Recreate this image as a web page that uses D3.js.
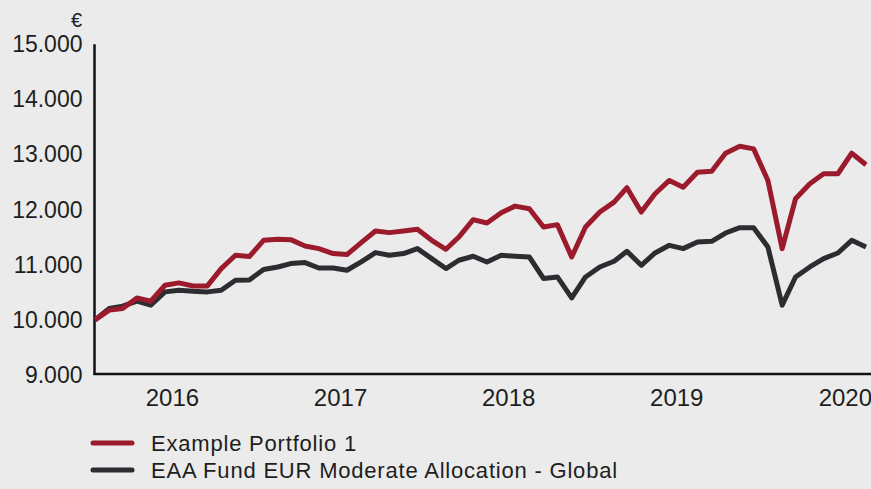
<!DOCTYPE html>
<html lang="en">
<head>
    <meta charset="UTF-8">
    <title>Portfolio vs Benchmark</title>
    <script src="https://d3js.org/d3.v7.min.js"></script>
</head>
<body>

<style>
body {
    margin: 0;
    background: #eaebea;
}
#chart-area svg {
    display: block;
}
text {
    font-family: "Liberation Sans", Arial, sans-serif;
    fill: #1e1e1e;
}
</style>

<div id="chart-area"></div>

<script>
const months = [
    "2016-01","2016-02","2016-03","2016-04","2016-05","2016-06","2016-07","2016-08","2016-09","2016-10","2016-11","2016-12",
    "2017-01","2017-02","2017-03","2017-04","2017-05","2017-06","2017-07","2017-08","2017-09","2017-10","2017-11","2017-12",
    "2018-01","2018-02","2018-03","2018-04","2018-05","2018-06","2018-07","2018-08","2018-09","2018-10","2018-11","2018-12",
    "2019-01","2019-02","2019-03","2019-04","2019-05","2019-06","2019-07","2019-08","2019-09","2019-10","2019-11","2019-12",
    "2020-01","2020-02","2020-03","2020-04","2020-05","2020-06","2020-07","2020-08"
];

const portfolio = [
    10000, 10177, 10207, 10399, 10339, 10629, 10671, 10616, 10616, 10931, 11172, 11148,
    11444, 11462, 11456, 11340, 11293, 11203, 11185, 11402, 11612, 11583, 11612, 11643,
    11444, 11281, 11503, 11818, 11757, 11945, 12064, 12017, 11684, 11728, 11141, 11684,
    11956, 12137, 12397, 11956, 12289, 12530, 12408, 12680, 12698, 13024, 13150, 13103,
    12530, 11293, 12198, 12470, 12651, 12651, 13024, 12814
];

const benchmark = [
    10000, 10207, 10249, 10339, 10267, 10508, 10539, 10520, 10508, 10539, 10720, 10725,
    10913, 10960, 11022, 11040, 10942, 10942, 10900, 11051, 11221, 11172, 11203, 11293,
    11112, 10931, 11082, 11154, 11051, 11172, 11154, 11141, 10750, 10779, 10399, 10779,
    10960, 11063, 11244, 10991, 11214, 11353, 11293, 11413, 11425, 11576, 11673, 11673,
    11322, 10267, 10779, 10960, 11112, 11214, 11444, 11322
];

const yTicks = [9000, 10000, 11000, 12000, 13000, 14000, 15000];
const years = [2016, 2017, 2018, 2019, 2020];

const seriesNames = ["Example Portfolio 1", "EAA Fund EUR Moderate Allocation - Global"];
const seriesColors = ["#9b1a2b", "#2b2d30"];

const width = 871;
const height = 489;

const parseMonth = d3.timeParse("%Y-%m");
const dates = months.map(parseMonth);

const x = d3.scaleTime()
    .domain(d3.extent(dates))
    .range([95, 866]);

const y = d3.scaleLinear()
    .domain([9000, 15000])
    .range([375, 44.3]);

const svg = d3.select("#chart-area")
    .append("svg")
        .attr("width", width)
        .attr("height", height);

svg.append("rect")
    .attr("width", width)
    .attr("height", height)
    .attr("fill", "#eaebea");

// y labels, no tick marks
svg.append("g")
    .attr("transform", "translate(94.5,0)")
    .call(d3.axisLeft(y)
        .tickValues(yTicks)
        .tickSize(0)
        .tickPadding(12)
        .tickFormat(d => d3.format(",")(d).replace(",", ".")))
    .call(g => g.select(".domain").remove())
    .selectAll("text")
        .attr("font-size", 23)
        .attr("font-family", "Liberation Sans, Arial, sans-serif")
        .attr("fill", "#1e1e1e");

svg.append("text")
    .attr("x", 82)
    .attr("y", 27)
    .attr("text-anchor", "end")
    .attr("font-size", 20)
    .text("€");

// year labels sit in the middle of each year
svg.append("g")
    .attr("transform", `translate(0,${y(9000)})`)
    .call(d3.axisBottom(x)
        .tickValues(years.map(yr => new Date(yr, 5, 16)))
        .tickSize(0)
        .tickPadding(14)
        .tickFormat(d3.timeFormat("%Y")))
    .call(g => g.select(".domain").remove())
    .selectAll("text")
        .attr("font-size", 24)
        .attr("font-family", "Liberation Sans, Arial, sans-serif")
        .attr("fill", "#1e1e1e");

svg.append("line")
    .attr("x1", 94.5).attr("x2", 94.5)
    .attr("y1", y(15000)).attr("y2", y(9000))
    .attr("stroke", "#111")
    .attr("stroke-width", 2.5);

svg.append("line")
    .attr("x1", 93.5).attr("x2", width)
    .attr("y1", y(9000) - 1).attr("y2", y(9000) - 1)
    .attr("stroke", "#111")
    .attr("stroke-width", 2.5);

const line = d3.line()
    .x((d, i) => x(dates[i]))
    .y(d => y(d));

// grey first so the red line ends up on top
[benchmark, portfolio].forEach((vals, k) => {
    svg.append("path")
        .datum(vals)
        .attr("fill", "none")
        .attr("stroke", seriesColors[1 - k])
        .attr("stroke-width", 5)
        .attr("stroke-linejoin", "round")
        .attr("d", line);
});

const legend = svg.append("g")
    .selectAll("g")
    .data(seriesNames)
    .join("g")
        .attr("transform", (d, i) => `translate(0,${443 + i * 27})`);

legend.append("line")
    .attr("x1", 93).attr("x2", 132)
    .attr("stroke", (d, i) => seriesColors[i])
    .attr("stroke-width", 5)
    .attr("stroke-linecap", "round");

legend.append("text")
    .attr("x", 151)
    .attr("y", 8)
    .attr("font-size", 22)
    .attr("letter-spacing", 0.8)
    .text(d => d);
</script>

</body>
</html>
